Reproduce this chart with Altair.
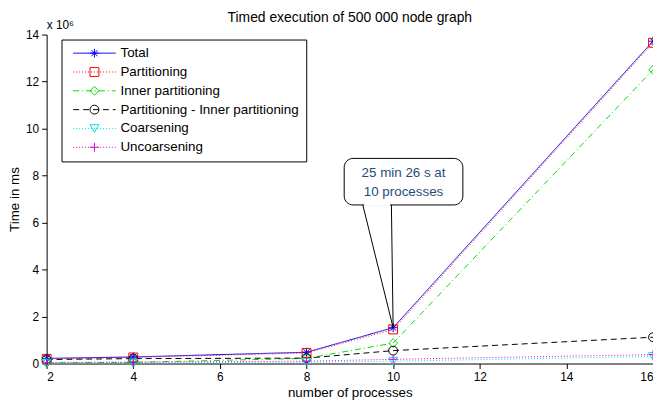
import altair as alt
import pandas as pd

# ---- data (values in units of 10^6 ms) ----
processes = [2, 4, 8, 10, 16]
series_names = ["Total", "Partitioning", "Inner partitioning",
                "Partitioning - Inner partitioning", "Coarsening", "Uncoarsening"]
total = [0.22, 0.28, 0.48, 1.526, 13.72]
partitioning = [0.20, 0.26, 0.45, 1.45, 13.65]
inner_partitioning = [0.03, 0.05, 0.22, 0.87, 12.5]
part_minus_inner = [0.17, 0.21, 0.23, 0.55, 1.12]
coarsening = [0.02, 0.03, 0.05, 0.10, 0.30]
uncoarsening = [0.05, 0.06, 0.10, 0.18, 0.38]

x_ticks = [2, 4, 6, 8, 10, 12, 14, 16]
y_ticks = [0, 2, 4, 6, 8, 10, 12, 14]

colors = ["#0000ff", "#ff0000", "#00dd00", "#000000", "#00e5e5", "#e000e0"]
dashes = [[1, 0], [1, 2], [6, 3, 1, 3], [6, 4], [1, 2], [1, 2]]
star = "M-1,0L1,0M0,-1L0,1M-0.7,-0.7L0.7,0.7M-0.7,0.7L0.7,-0.7"
plus = "M-1,0L1,0M0,-1L0,1"
shapes = [star, "square", "diamond", "circle", "triangle-down", plus]
legend_line_path = "M-4.8,0L4.8,0"

# annotation callout
ann_box_x = [8.87, 11.61]
ann_box_y = [6.75, 8.73]
ann_tail_x = [9.3, 9.96]
ann_tail_top = 6.75
ann_point = (10, 1.526)
ann_lines = ["25 min 26 s at", "10 processes"]
ann_text_x = 10.24
ann_text_y = [8.12, 7.3]

rows = []
for name, vals in zip(series_names, [total, partitioning, inner_partitioning,
                                     part_minus_inner, coarsening, uncoarsening]):
    for p, v in zip(processes, vals):
        rows.append({"processes": p, "time": v, "series": name, "marker": name})
df = pd.DataFrame(rows)

font = "Liberation Sans"

xscale = alt.Scale(domain=[2, 16], nice=False, zero=False)
yscale = alt.Scale(domain=[0, 14], nice=False)

common_legend = dict(
    title=None, orient="none", legendX=15, legendY=5, padding=7,
    labelFont=font, labelFontSize=13.5, labelLimit=0,
    symbolStrokeWidth=1, symbolSize=80, rowPadding=4, labelOffset=19.5,
    symbolOffset=19.5, symbolFillColor="transparent",
)
line_legend = alt.Legend(strokeColor="#000000", fillColor="#ffffff", labelColor="#000000",
                         symbolType=legend_line_path, zindex=1, **common_legend)
marker_legend = alt.Legend(labelColor="transparent", zindex=2, **common_legend)

line_color = alt.Color("series:N", scale=alt.Scale(domain=series_names, range=colors), legend=line_legend)
line_dash = alt.StrokeDash("series:N", scale=alt.Scale(domain=series_names, range=dashes), legend=line_legend)
mark_color = alt.Color("marker:N", scale=alt.Scale(domain=series_names, range=colors), legend=marker_legend)
mark_shape = alt.Shape("marker:N", scale=alt.Scale(domain=series_names, range=shapes), legend=marker_legend)

x_enc = alt.X("processes:Q", scale=xscale,
              axis=alt.Axis(title="number of processes", values=x_ticks, grid=False,
                            tickSize=5, labelPadding=3, titlePadding=3))
y_enc = alt.Y("time:Q", scale=yscale,
              axis=alt.Axis(title="Time in ms", values=y_ticks, grid=False,
                            tickSize=5, labelPadding=3, titlePadding=4))

base = alt.Chart(df)
lines = base.mark_line(strokeWidth=1).encode(x=x_enc, y=y_enc, color=line_color, strokeDash=line_dash)
points = base.mark_point(filled=False, size=80, strokeWidth=1, opacity=1).encode(
    x="processes:Q", y="time:Q", color=mark_color, shape=mark_shape)

box_df = pd.DataFrame({"x": [ann_box_x[0]], "x2": [ann_box_x[1]],
                       "y": [ann_box_y[0]], "y2": [ann_box_y[1]]})
box = alt.Chart(box_df).mark_rect(fill="white", stroke="black", strokeWidth=1, cornerRadius=9).encode(
    x=alt.X("x:Q", scale=xscale), x2="x2", y=alt.Y("y:Q", scale=yscale), y2="y2")

tail_df = pd.DataFrame({"x": ann_tail_x, "y": [ann_tail_top] * 2,
                        "x2": [ann_point[0]] * 2, "y2": [ann_point[1]] * 2})
tails = alt.Chart(tail_df).mark_rule(color="black", strokeWidth=1).encode(
    x=alt.X("x:Q", scale=xscale), y=alt.Y("y:Q", scale=yscale), x2="x2", y2="y2")
gap_df = pd.DataFrame({"x": [ann_tail_x[0] + 0.03], "x2": [ann_tail_x[1] - 0.03], "y": [ann_tail_top]})
gap = alt.Chart(gap_df).mark_rule(color="white", strokeWidth=2).encode(
    x=alt.X("x:Q", scale=xscale), x2="x2", y=alt.Y("y:Q", scale=yscale))

text_df = pd.DataFrame({"x": [ann_text_x] * 2, "y": ann_text_y, "t": ann_lines})
texts = alt.Chart(text_df).mark_text(font=font, fontSize=13.5, color="#1f4e79").encode(
    x=alt.X("x:Q", scale=xscale), y=alt.Y("y:Q", scale=yscale), text="t:N")

exp = alt.Chart(pd.DataFrame({"t": ["x 10\u2076"]})).mark_text(
    font=font, fontSize=12, align="left", baseline="alphabetic", color="#000000").encode(
    x=alt.value(0), y=alt.value(-6), text="t:N")

chart = alt.layer(lines, points, tails, box, gap, texts, exp).resolve_scale(
    color="independent", strokeDash="independent", shape="independent"
).resolve_legend(
    color="independent", strokeDash="independent", shape="independent"
).properties(
    width=612, height=332,
    autosize=alt.AutoSizeParams(type="none"),
    padding={"left": 39, "top": 25, "right": 0, "bottom": 39},
    background="white",
    title=alt.Title("Timed execution of 500 000 node graph", font=font, fontSize=14,
                    fontWeight="normal", color="#000000", offset=4, dy=10),
).configure_view(stroke=None).configure_axis(
    labelFont=font, titleFont=font, labelFontSize=12, titleFontSize=13.5,
    titleFontWeight="normal", labelColor="#000000", titleColor="#000000",
    domainColor="#000000", tickColor="#000000",
)

chart.save("out.html", embed_options={"renderer": "svg", "actions": False})
